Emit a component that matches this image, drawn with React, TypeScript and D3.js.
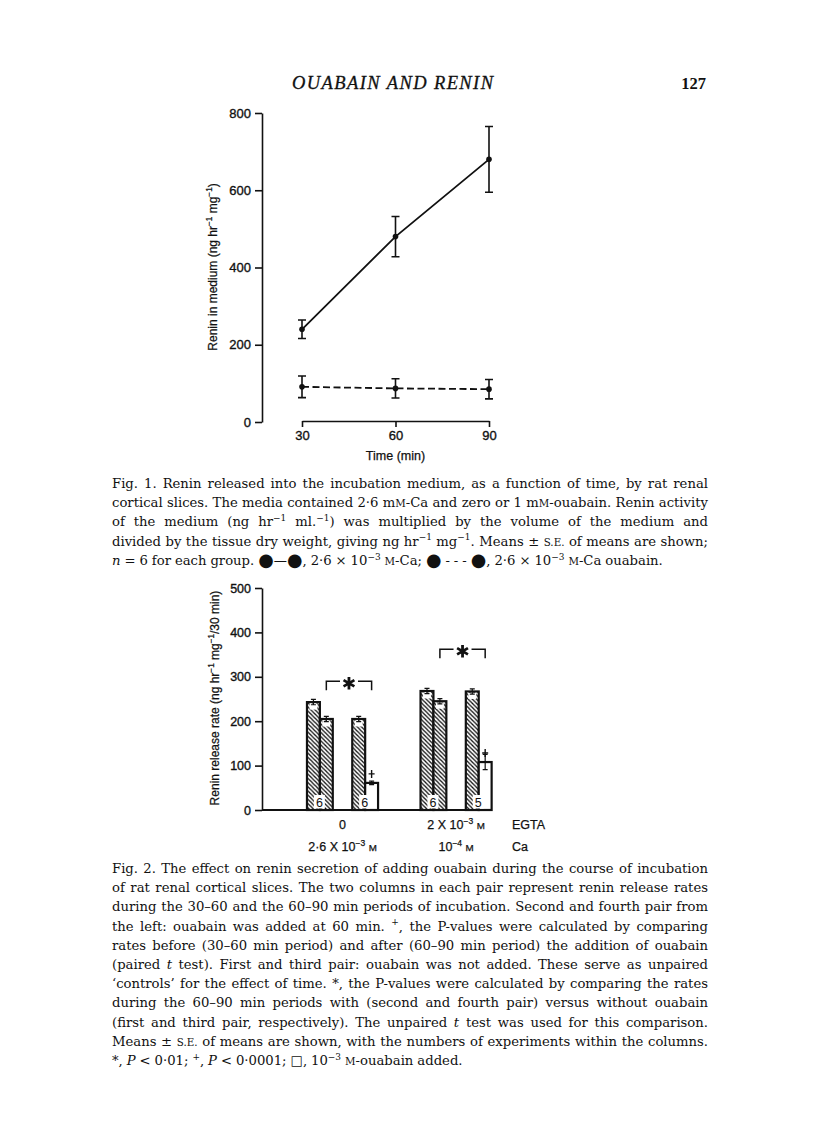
import React, { useEffect, useRef } from 'react';
import * as d3 from 'd3';

const W = 816;
const H = 1127;
const SANS = 'Liberation Sans, Arial, Helvetica, sans-serif';
const SERIF = 'Liberation Serif, Times New Roman, serif';
const CAP_SERIF = 'DejaVu Serif, Liberation Serif, serif';

// ---- Fig. 1: renin in medium vs time ----
const times = [30, 60, 90];
const caMean = [240, 480, 680];
const caSE = [24, 52, 85];
const ouaMean = [91, 87, 85];
const ouaSE = [28, 25, 25];
const fig1YTicks = [0, 200, 400, 600, 800];

// ---- Fig. 2: renin release rate bars ----
const groups = ['noEgta', 'egta'];
const treatments = ['control', 'ouabain'];
const periods = ['30-60', '60-90'];
const egtaLabels = ['0', '2 X 10^−3^ ~m~'];
const caLabels = ['2·6 X 10^−3^ ~m~', '10^−4^ ~m~'];
// order: control 30-60, control 60-90, ouabain 30-60, ouabain 60-90
const ratesNoEgta = [243, 205, 205, 61];
const ratesEgta = [268, 245, 267, 108];
const seNoEgta = [6, 6, 6, 4];
const seEgta = [6, 6, 6, 17];
const nNoEgta = [6, 6];
const nEgta = [6, 5];
const bracketLevel = [290, 362];
const fig2YTicks = [0, 100, 200, 300, 400, 500];

// ---- captions (^sup^, ~small caps~, _italic_) ----
const fig1Caption = [
  'Fig. 1. Renin released into the incubation medium, as a function of time, by rat renal',
  'cortical slices. The media contained 2·6 m~m~-Ca and zero or 1 m~m~-ouabain. Renin activity',
  'of the medium (ng hr^−1^ ml.^−1^) was multiplied by the volume of the medium and',
  'divided by the tissue dry weight, giving ng hr^−1^ mg^−1^. Means ± ~s.e.~ of means are shown;',
  '_n_ = 6 for each group. ●—●, 2·6 × 10^−3^ ~m~-Ca; ● - - - ●, 2·6 × 10^−3^ ~m~-Ca ouabain.',
];
const fig2Caption = [
  'Fig. 2. The effect on renin secretion of adding ouabain during the course of incubation',
  'of rat renal cortical slices. The two columns in each pair represent renin release rates',
  'during the 30–60 and the 60–90 min periods of incubation. Second and fourth pair from',
  'the left: ouabain was added at 60 min. ^+^, the P-values were calculated by comparing',
  'rates before (30–60 min period) and after (60–90 min period) the addition of ouabain',
  '(paired _t_ test). First and third pair: ouabain was not added. These serve as unpaired',
  '‘controls’ for the effect of time. *, the P-values were calculated by comparing the rates',
  'during the 60–90 min periods with (second and fourth pair) versus without ouabain',
  '(first and third pair, respectively). The unpaired _t_ test was used for this comparison.',
  'Means ± ~s.e.~ of means are shown, with the numbers of experiments within the columns.',
  '*, _P_ < 0·01; ^+^, _P_ < 0·0001; □, 10^−3^ ~m~-ouabain added.',
];

function appendRich(text: any, str: string, fs: number) {
  let sup = false, sc = false, it = false, buf = '', shift = 0;
  const emit = (s: string, big: boolean) => {
    let size = sup ? fs * 0.68 : fs;
    if (sc) size *= 0.78;
    if (big) size *= 1.35;
    const t = text.append('tspan').text(sc ? s.toUpperCase() : s).attr('font-size', size);
    if (it) t.attr('font-style', 'italic');
    const want = sup ? -fs * 0.4 : big ? fs * 0.08 : 0;
    if (want !== shift) { t.attr('dy', want - shift); shift = want; }
  };
  const flush = () => { if (buf) emit(buf, false); buf = ''; };
  for (const ch of str) {
    if (ch === '^') { flush(); sup = !sup; }
    else if (ch === '~') { flush(); sc = !sc; }
    else if (ch === '_') { flush(); it = !it; }
    else if (ch === '●') { flush(); emit(ch, true); }
    else buf += ch;
  }
  flush();
}

function drawParagraph(g: any, lines: string[], x: number, y0: number, width: number, lh: number, fs: number) {
  const minGap = fs * 0.3;
  lines.forEach((line, li) => {
    const y = y0 + li * lh;
    const lg = g.append('g');
    const words = line.split(' ');
    const nodes = words.map((w) => {
      const t = lg.append('text').attr('y', y).attr('font-family', CAP_SERIF).attr('font-size', fs).attr('fill', '#111');
      appendRich(t, w, fs);
      return t;
    });
    const widths = nodes.map((n) => n.node().getComputedTextLength());
    const total = d3.sum(widths);
    const last = li === lines.length - 1;
    const natural = total + (words.length - 1) * minGap;
    let gap = minGap;
    let sx = 1;
    if (natural > width) sx = width / natural;
    else if (!last && words.length > 1) gap = (width - total) / (words.length - 1);
    let cx = 0;
    nodes.forEach((n, i) => { n.attr('x', cx); cx += widths[i] + gap; });
    lg.attr('transform', `translate(${x},0) scale(${sx},1)`);
  });
}

const App = () => {
  const svgRef = useRef<SVGSVGElement>(null);

  useEffect(() => {
    document.body.style.margin = '0';
    const svg = d3.select(svgRef.current);
    svg.selectAll('*').remove();

    // hatch pattern
    const p = 4.2;
    const pat = svg.append('defs').append('pattern').attr('id', 'hatch')
      .attr('patternUnits', 'userSpaceOnUse').attr('width', p).attr('height', p);
    pat.append('rect').attr('width', p).attr('height', p).attr('fill', 'white');
    pat.append('path')
      .attr('d', `M-1,-1L${p + 1},${p + 1}M-1,${p - 1}L1,${p + 1}M${p - 1},-1L${p + 1},1`)
      .attr('stroke', '#111').attr('stroke-width', 1.3);

    // --- page header ---
    svg.append('text').attr('x', 292).attr('y', 89).attr('font-family', SERIF).attr('font-style', 'italic')
      .attr('font-size', 18.5).attr('textLength', 201).attr('lengthAdjust', 'spacing').attr('fill', '#111')
      .attr('stroke', '#111').attr('stroke-width', 0.3)
      .text('OUABAIN AND RENIN');
    svg.append('text').attr('x', 706).attr('y', 89).attr('text-anchor', 'end').attr('font-family', SERIF)
      .attr('font-weight', 'bold').attr('font-size', 16.5).attr('fill', '#111').text('127');

    // --- Fig. 1 ---
    const x1 = d3.scaleLinear().domain([30, 90]).range([302, 489]);
    const y1 = d3.scaleLinear().domain([0, 800]).range([422, 113]);
    const f1 = svg.append('g');

    const yAx1 = f1.append('g').attr('transform', 'translate(262,0)')
      .call(d3.axisLeft(y1).tickValues(fig1YTicks).tickSize(7).tickSizeOuter(0).tickPadding(4).tickFormat(d3.format('d')));
    const xAx1 = f1.append('g').attr('transform', 'translate(0,421)')
      .call(d3.axisBottom(x1).tickValues(times).tickSize(6).tickSizeOuter(0).tickPadding(4).tickFormat(d3.format('d')));
    [yAx1, xAx1].forEach((ax) => {
      ax.selectAll('path,line').attr('stroke', '#111').attr('stroke-width', 1.6);
      ax.selectAll('text').attr('font-family', SANS).attr('font-size', 13).attr('fill', '#111')
        .attr('stroke', '#111').attr('stroke-width', 0.35);
    });

    f1.append('text').attr('x', x1(60)).attr('y', 460).attr('text-anchor', 'middle')
      .attr('font-family', SANS).attr('font-size', 12.5).attr('fill', '#111')
      .attr('stroke', '#111').attr('stroke-width', 0.25).text('Time (min)');
    const yl1 = f1.append('text').attr('transform', 'translate(217,267) rotate(-90)').attr('text-anchor', 'middle')
      .attr('font-family', SANS).attr('fill', '#111').attr('stroke', '#111').attr('stroke-width', 0.25);
    appendRich(yl1, 'Renin in medium (ng hr^−1^  mg^−1^)', 12);

    const series1 = [
      { mean: caMean, se: caSE, dash: null },
      { mean: ouaMean, se: ouaSE, dash: '7,3.5' },
    ];
    series1.forEach((s) => {
      const pts = times.map((t, i) => [t, s.mean[i], s.se[i]]);
      const line = d3.line<number[]>().x((d) => x1(d[0])).y((d) => y1(d[1]));
      const path = f1.append('path').datum(pts).attr('d', line).attr('fill', 'none')
        .attr('stroke', '#111').attr('stroke-width', 1.8);
      if (s.dash) path.attr('stroke-dasharray', s.dash);
      pts.forEach(([t, m, e]) => {
        const cx = x1(t);
        f1.append('path')
          .attr('d', `M${cx},${y1(m + e)}V${y1(m - e)}M${cx - 4},${y1(m + e)}H${cx + 4}M${cx - 4},${y1(m - e)}H${cx + 4}`)
          .attr('stroke', '#111').attr('stroke-width', 1.6).attr('fill', 'none');
        f1.append('circle').attr('cx', cx).attr('cy', y1(m)).attr('r', 2.8).attr('fill', '#111');
      });
    });

    drawParagraph(svg.append('g'), fig1Caption, 112, 488, 596, 19.2, 13.2);

    // --- Fig. 2 ---
    const y2 = d3.scaleLinear().domain([0, 500]).range([810, 588]);
    const outer = d3.scaleBand().domain(groups).range([262, 536.6]).paddingInner(0.374).paddingOuter(0.396);
    const mid = d3.scaleBand().domain(treatments).range([0, outer.bandwidth()]).paddingInner(0.43);
    const inner = d3.scaleBand().domain(periods).range([0, mid.bandwidth()]);
    const f2 = svg.append('g');

    const yAx2 = f2.append('g').attr('transform', 'translate(262,0)')
      .call(d3.axisLeft(y2).tickValues(fig2YTicks).tickSize(7).tickSizeOuter(0).tickPadding(4).tickFormat(d3.format('d')));
    yAx2.selectAll('path,line').attr('stroke', '#111').attr('stroke-width', 1.6);
    yAx2.selectAll('text').attr('font-family', SANS).attr('font-size', 12.5).attr('fill', '#111')
      .attr('stroke', '#111').attr('stroke-width', 0.35);

    const xEnd = (outer('egta') as number) + outer.bandwidth();
    f2.append('line').attr('x1', 262).attr('x2', xEnd).attr('y1', y2(0)).attr('y2', y2(0))
      .attr('stroke', '#111').attr('stroke-width', 1.8);

    const yl2 = f2.append('text').attr('transform', 'translate(219,698) rotate(-90)').attr('text-anchor', 'middle')
      .attr('font-family', SANS).attr('fill', '#111').attr('stroke', '#111').attr('stroke-width', 0.25);
    appendRich(yl2, 'Renin release rate (ng hr^−1^  mg^−1^/30 min)', 12);

    const rates = [ratesNoEgta, ratesEgta];
    const ses = [seNoEgta, seEgta];
    const ns = [nNoEgta, nEgta];
    const bw = inner.bandwidth();

    groups.forEach((g, gi) => {
      const gx = outer(g) as number;
      treatments.forEach((t, ti) => {
        const tx = gx + (mid(t) as number);
        periods.forEach((pd, pi) => {
          const idx = ti * 2 + pi;
          const v = rates[gi][idx];
          const se = ses[gi][idx];
          const bx = tx + (inner(pd) as number);
          const open = t === 'ouabain' && pd === '60-90';
          f2.append('rect').attr('x', bx).attr('y', y2(v)).attr('width', bw).attr('height', y2(0) - y2(v))
            .attr('fill', open ? 'white' : 'url(#hatch)').attr('stroke', '#111').attr('stroke-width', 2.2);
          const cx = bx + bw / 2;
          if (!open) {
            f2.append('rect').attr('x', bx + 2.5).attr('y', y2(v) + 1.5).attr('width', bw - 5).attr('height', 6)
              .attr('fill', 'white');
          }
          f2.append('path')
            .attr('d', `M${cx},${y2(v + se)}V${y2(v - se)}M${cx - 2.5},${y2(v + se)}H${cx + 2.5}M${cx - 2.5},${y2(v - se)}H${cx + 2.5}`)
            .attr('stroke', '#111').attr('stroke-width', 1.2).attr('fill', 'none');
          if (open) {
            const py = y2(v) - 9;
            f2.append('path').attr('d', `M${cx - 3},${py}H${cx + 3}M${cx},${py - 4}V${py + 4}`)
              .attr('stroke', '#111').attr('stroke-width', 1.4);
          }
        });
        // n label at the bottom of each pair
        const nx = tx + bw - 0.5;
        f2.append('rect').attr('x', nx - 5.5).attr('y', y2(0) - 15).attr('width', 11).attr('height', 13.5)
          .attr('fill', 'white');
        f2.append('text').attr('x', nx).attr('y', y2(0) - 3.5).attr('text-anchor', 'middle')
          .attr('font-family', SANS).attr('font-size', 12.5).attr('fill', '#111').text(String(ns[gi][ti]));
      });

      // significance bracket between the 60-90 columns
      const xa = gx + (mid('control') as number) + (inner('60-90') as number) + bw / 2;
      const xb = gx + (mid('ouabain') as number) + (inner('60-90') as number) + bw / 2;
      const yb = y2(bracketLevel[gi]);
      const xm = (xa + xb) / 2;
      f2.append('path')
        .attr('d', `M${xa},${yb + 9}V${yb}H${xm - 9}M${xm + 9},${yb}H${xb}V${yb + 9}`)
        .attr('stroke', '#111').attr('stroke-width', 1.5).attr('fill', 'none');
      f2.append('path').attr('transform', `translate(${xm},${yb + 2})`)
        .attr('d', d3.symbol(d3.symbolAsterisk, 110)())
        .attr('stroke', '#111').attr('stroke-width', 2.8).attr('fill', 'none');

      // category labels
      const gc = gx + outer.bandwidth() / 2;
      const l1 = f2.append('text').attr('x', gc).attr('y', 829).attr('text-anchor', 'middle')
        .attr('font-family', SANS).attr('fill', '#111').attr('stroke', '#111').attr('stroke-width', 0.25);
      appendRich(l1, egtaLabels[gi], 12.5);
      const l2 = f2.append('text').attr('x', gc).attr('y', 851).attr('text-anchor', 'middle')
        .attr('font-family', SANS).attr('fill', '#111').attr('stroke', '#111').attr('stroke-width', 0.25);
      appendRich(l2, caLabels[gi], 12.5);
    });
    ['EGTA', 'Ca'].forEach((lab, i) => {
      f2.append('text').attr('x', 512).attr('y', 829 + i * 22).attr('font-family', SANS).attr('font-size', 12.5)
        .attr('fill', '#111').attr('stroke', '#111').attr('stroke-width', 0.25).text(lab);
    });

    drawParagraph(svg.append('g'), fig2Caption, 112, 873, 596, 19.2, 13.2);
  }, []);

  return (
    <svg ref={svgRef} width={W} height={H} style={{ display: 'block', background: 'white' }} />
  );
};

export default App;
